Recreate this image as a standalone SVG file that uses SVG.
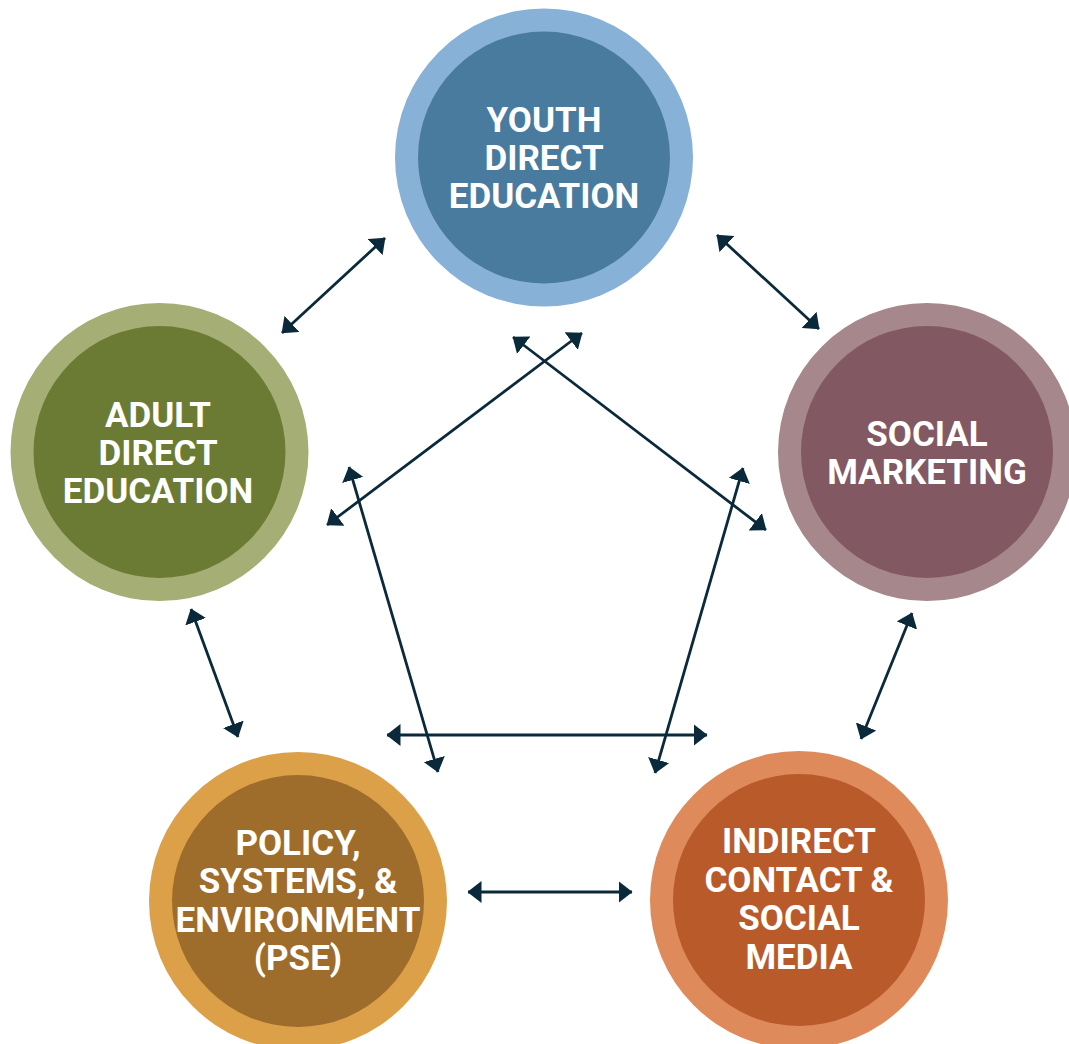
<svg xmlns="http://www.w3.org/2000/svg" width="1069" height="1044" viewBox="0 0 1069 1044">
  <style>
    .lbl { font-family: Roboto, "Liberation Sans", Arial, sans-serif; font-weight: 700; font-size: 35px; fill: #ffffff; text-anchor: middle; }
    .link { stroke: #0a2a3c; stroke-width: 2.8; fill: none; marker-start: url(#head); marker-end: url(#head); }
  </style>
  <defs>
    <marker id="head" viewBox="0 0 14 22" refX="13.5" refY="11" markerWidth="14" markerHeight="22" markerUnits="userSpaceOnUse" orient="auto-start-reverse">
      <path d="M0,0 L14,11 L0,22 Z" fill="#0a2a3c"/>
    </marker>
  </defs>
  <rect width="1069" height="1044" fill="#ffffff"/>

  <g id="connectors">
    <!-- ring around the pentagon -->
    <line class="link" x1="385" y1="238" x2="282" y2="333"/>
    <line class="link" x1="717" y1="235" x2="819" y2="329"/>
    <line class="link" x1="912" y1="613" x2="861" y2="739"/>
    <line class="link" x1="191" y1="609" x2="238" y2="737"/>
    <line class="link" x1="468" y1="892" x2="632" y2="892"/>
    <!-- crossing links through the middle -->
    <line class="link" x1="582" y1="333" x2="327" y2="525"/>
    <line class="link" x1="513" y1="337" x2="766" y2="530"/>
    <line class="link" x1="349" y1="467" x2="438" y2="772"/>
    <line class="link" x1="743" y1="468" x2="655" y2="773"/>
    <line class="link" x1="387" y1="735" x2="707" y2="735"/>
  </g>

  <g id="youth-direct-education">
    <circle cx="544" cy="157.5" r="149" fill="#87b1d6"/>
    <circle cx="544" cy="157.5" r="126" fill="#487b9e"/>
    <text class="lbl" x="544" y="132">YOUTH</text>
    <text class="lbl" x="544" y="170">DIRECT</text>
    <text class="lbl" x="544" y="208">EDUCATION</text>
  </g>

  <g id="adult-direct-education">
    <circle cx="159.5" cy="452" r="149" fill="#a5ae74"/>
    <circle cx="159.5" cy="452" r="126" fill="#6b7b33"/>
    <text class="lbl" x="158" y="427">ADULT</text>
    <text class="lbl" x="158" y="465">DIRECT</text>
    <text class="lbl" x="158" y="503">EDUCATION</text>
  </g>

  <g id="social-marketing">
    <circle cx="927" cy="452" r="149" fill="#a5878c"/>
    <circle cx="927" cy="452" r="126" fill="#825863"/>
    <text class="lbl" x="927" y="446">SOCIAL</text>
    <text class="lbl" x="927" y="484">MARKETING</text>
  </g>

  <g id="pse">
    <circle cx="298" cy="901" r="149" fill="#dca048"/>
    <circle cx="298" cy="901" r="126" fill="#9e6c2b"/>
    <text class="lbl" x="298" y="855">POLICY,</text>
    <text class="lbl" x="298" y="893">SYSTEMS, &amp;</text>
    <text class="lbl" x="298" y="932">ENVIRONMENT</text>
    <text class="lbl" x="298" y="970">(PSE)</text>
  </g>

  <g id="indirect-contact">
    <circle cx="799" cy="900" r="149" fill="#df8a5b"/>
    <circle cx="799" cy="900" r="126" fill="#b85a2a"/>
    <text class="lbl" x="799" y="853">INDIRECT</text>
    <text class="lbl" x="799" y="892">CONTACT &amp;</text>
    <text class="lbl" x="799" y="930">SOCIAL</text>
    <text class="lbl" x="799" y="969">MEDIA</text>
  </g>
</svg>
